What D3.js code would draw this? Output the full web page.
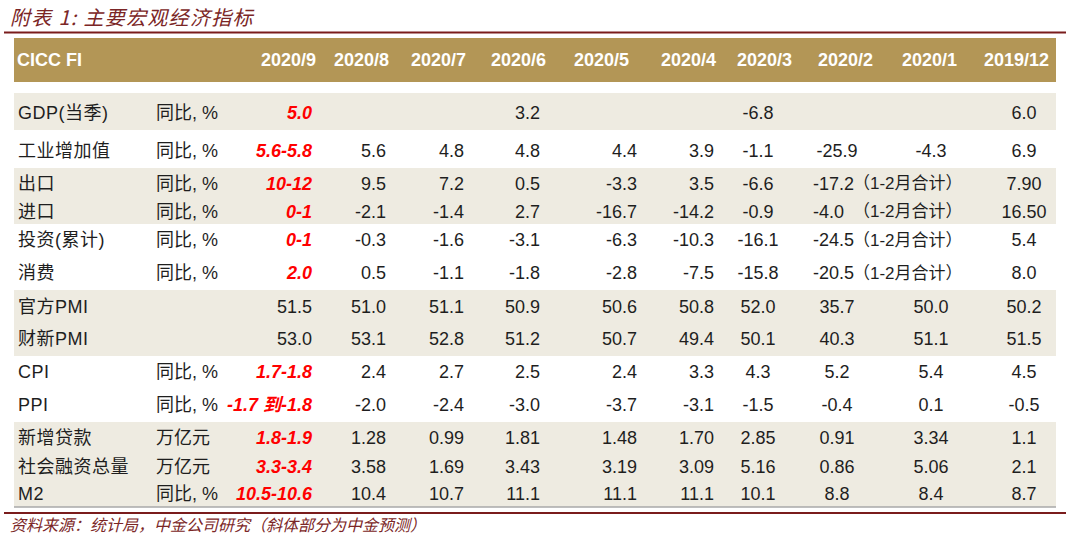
<!DOCTYPE html>
<html>
<head>
<meta charset="utf-8">
<script src="https://cdn.jsdelivr.net/npm/d3@7"></script>
<style>
  html, body { margin: 0; padding: 0; background: #ffffff; }
  svg { display: block; }
</style>
</head>
<body>
<svg id="chart" width="1080" height="543"></svg>
<script>
// ---------------- DATA ----------------
const titleText = "附表 1: 主要宏观经济指标";
const sourceText = "资料来源：统计局，中金公司研究（斜体部分为中金预测）";
const cornerLabel = "CICC FI";
const months = ["2020/9","2020/8","2020/7","2020/6","2020/5","2020/4","2020/3","2020/2","2020/1","2019/12"];

const rowLabels = ["GDP(当季)","工业增加值","出口","进口","投资(累计)","消费","官方PMI","财新PMI","CPI","PPI","新增贷款","社会融资总量","M2"];
const rowUnits  = ["同比, %","同比, %","同比, %","同比, %","同比, %","同比, %","","","同比, %","同比, %","万亿元","万亿元","同比, %"];

// 2020/9 column (forecast, italic red where estimated)
const sep2020 = ["5.0","5.6-5.8","10-12","0-1","0-1","2.0","51.5","53.0","1.7-1.8","-1.7 到-1.8","1.8-1.9","3.3-3.4","10.5-10.6"];
const sepIsForecast = [true,true,true,true,true,true,false,false,true,true,true,true,true];

// 2020/8 ... 2019/12
const gdpRow     = ["","","3.2","","","-6.8","","","6.0"];
const ipRow      = ["5.6","4.8","4.8","4.4","3.9","-1.1","-25.9","-4.3","6.9"];
const exportRow  = ["9.5","7.2","0.5","-3.3","3.5","-6.6","-17.2","","7.90"];
const importRow  = ["-2.1","-1.4","2.7","-16.7","-14.2","-0.9","-4.0","","16.50"];
const investRow  = ["-0.3","-1.6","-3.1","-6.3","-10.3","-16.1","-24.5","","5.4"];
const retailRow  = ["0.5","-1.1","-1.8","-2.8","-7.5","-15.8","-20.5","","8.0"];
const pmiRow     = ["51.0","51.1","50.9","50.6","50.8","52.0","35.7","50.0","50.2"];
const caixinRow  = ["53.1","52.8","51.2","50.7","49.4","50.1","40.3","51.1","51.5"];
const cpiRow     = ["2.4","2.7","2.5","2.4","3.3","4.3","5.2","5.4","4.5"];
const ppiRow     = ["-2.0","-2.4","-3.0","-3.7","-3.1","-1.5","-0.4","0.1","-0.5"];
const loanRow    = ["1.28","0.99","1.81","1.48","1.70","2.85","0.91","3.34","1.1"];
const tsfRow     = ["3.58","1.69","3.43","3.19","3.09","5.16","0.86","5.06","2.1"];
const m2Row      = ["10.4","10.7","11.1","11.1","11.1","10.1","8.8","8.4","8.7"];

const noteText = "（1-2月合计）";
const noteRows = ["出口","进口","投资(累计)","消费"];
const bandGroups = [["GDP(当季)"],["出口","进口"],["官方PMI","财新PMI"],["新增贷款","社会融资总量","M2"]];

// ---------------- LAYOUT ----------------
const W = 1080, H = 543;
const svg = d3.select("#chart");
const LATIN = "'Liberation Sans', Arial, 'Noto Sans CJK SC', sans-serif";
const CJK = "'Noto Sans CJK SC', sans-serif";
const titleColor = "#7b2626";
const ruleColor = "#7a1c1c";
const headerFill = "#b39656";
const bandFill = "#eeebe1";
const textColor = "#1e1e1e";

const valueRows = [gdpRow, ipRow, exportRow, importRow, investRow, retailRow, pmiRow, caixinRow, cpiRow, ppiRow, loanRow, tsfRow, m2Row];

const y = d3.scaleOrdinal().domain(rowLabels)
  .range([112.5, 151, 183.5, 211.5, 240, 273, 306.5, 339, 372, 404.5, 438, 466.5, 494]);
const headerX = d3.scaleOrdinal().domain(months)
  .range([316, 389, 466, 546, 629, 716, 792, 873, 957, 1049]);
const valX = d3.scaleOrdinal().domain(months)
  .range([312, 386, 464, 540, 637, 714, 758, 837, 931, 1024]);
const valAnchor = d3.scaleOrdinal().domain(months)
  .range(["end","end","end","end","end","end","middle","middle","middle","middle"]);
const bandExtent = d3.scaleOrdinal().domain(bandGroups.map(g => g[0]))
  .range([[93,130],[168,224],[290,356],[422,507]]);

const tableLeft = 14, tableRight = 1056;

// Title
svg.append("text")
  .attr("x", 10).attr("y", 25)
  .attr("font-family", CJK).attr("font-size", 20).attr("font-style", "italic")
  .attr("letter-spacing", 1.3)
  .attr("fill", titleColor)
  .text(titleText);

// Top rule
svg.append("line").attr("x1", 4).attr("x2", 1066).attr("y1", 32.5).attr("y2", 32.5)
  .attr("stroke", ruleColor).attr("stroke-width", 2);

// Header band
svg.append("rect").attr("x", tableLeft).attr("y", 38).attr("width", tableRight - tableLeft).attr("height", 44)
  .attr("fill", headerFill);
svg.append("text").attr("x", 17).attr("y", 60).attr("dy", "0.35em")
  .attr("font-family", LATIN).attr("font-weight", "bold").attr("font-size", 18).attr("fill", "#ffffff")
  .text(cornerLabel);
svg.append("g").selectAll("text").data(months).join("text")
  .attr("x", d => headerX(d)).attr("y", 60).attr("dy", "0.35em")
  .attr("text-anchor", "end")
  .attr("font-family", LATIN).attr("font-weight", "bold").attr("font-size", 18).attr("fill", "#ffffff")
  .text(d => d);

// Shaded bands
svg.append("g").selectAll("rect").data(bandGroups).join("rect")
  .attr("x", tableLeft).attr("width", tableRight - tableLeft)
  .attr("y", g => bandExtent(g[0])[0])
  .attr("height", g => bandExtent(g[0])[1] - bandExtent(g[0])[0])
  .attr("fill", bandFill);

// Gray bottom edge of table
svg.append("line").attr("x1", tableLeft).attr("x2", tableRight).attr("y1", 507).attr("y2", 507)
  .attr("stroke", "#a8a8a8").attr("stroke-width", 1.5);

// Row labels
const body = svg.append("g");
body.selectAll("text.label").data(rowLabels).join("text")
  .attr("class", "label")
  .attr("x", 18).attr("y", d => y(d)).attr("dy", "0.35em")
  .attr("font-family", LATIN).attr("font-size", 18).attr("fill", textColor)
  .attr("letter-spacing", 0.5)
  .text(d => d);

// Units
body.selectAll("text.unit").data(rowLabels.map((l, i) => ({l, u: rowUnits[i]}))).join("text")
  .attr("class", "unit")
  .attr("x", 156).attr("y", d => y(d.l)).attr("dy", "0.35em")
  .attr("font-family", LATIN).attr("font-size", 18).attr("fill", textColor)
  .text(d => d.u);

// 2020/9 column
body.selectAll("text.sep").data(rowLabels.map((l, i) => ({l, v: sep2020[i], f: sepIsForecast[i]}))).join("text")
  .attr("class", "sep")
  .attr("x", valX(months[0])).attr("y", d => y(d.l)).attr("dy", "0.35em")
  .attr("text-anchor", "end")
  .attr("font-family", LATIN).attr("font-size", 18)
  .attr("font-weight", d => d.f ? "bold" : "normal")
  .attr("font-style", d => d.f ? "italic" : "normal")
  .attr("fill", d => d.f ? "#ff0000" : textColor)
  .text(d => d.v);

// Other months
const cells = [];
rowLabels.forEach((l, i) => {
  valueRows[i].forEach((v, j) => {
    if (v !== "") cells.push({l, m: months[j + 1], v, note: noteRows.includes(l) && months[j + 1] === "2020/2"});
  });
});
body.selectAll("text.val").data(cells).join("text")
  .attr("class", "val")
  .attr("x", d => d.note ? 813 : valX(d.m))
  .attr("y", d => y(d.l)).attr("dy", "0.35em")
  .attr("text-anchor", d => d.note ? "start" : valAnchor(d.m))
  .attr("font-family", LATIN).attr("font-size", 18).attr("fill", textColor)
  .text(d => d.v);

// Notes (1-2月合计)
body.selectAll("text.note").data(noteRows).join("text")
  .attr("class", "note")
  .attr("x", 853).attr("y", d => y(d)).attr("dy", "0.35em")
  .attr("font-family", LATIN).attr("font-size", 17).attr("fill", textColor)
  .text(noteText);

// Bottom rule
svg.append("line").attr("x1", 4).attr("x2", 1066).attr("y1", 513).attr("y2", 513)
  .attr("stroke", ruleColor).attr("stroke-width", 2);

// Source
svg.append("text")
  .attr("x", 10).attr("y", 531)
  .attr("font-family", CJK).attr("font-size", 16).attr("font-style", "italic")
  .attr("fill", titleColor)
  .text(sourceText);
</script>
</body>
</html>
